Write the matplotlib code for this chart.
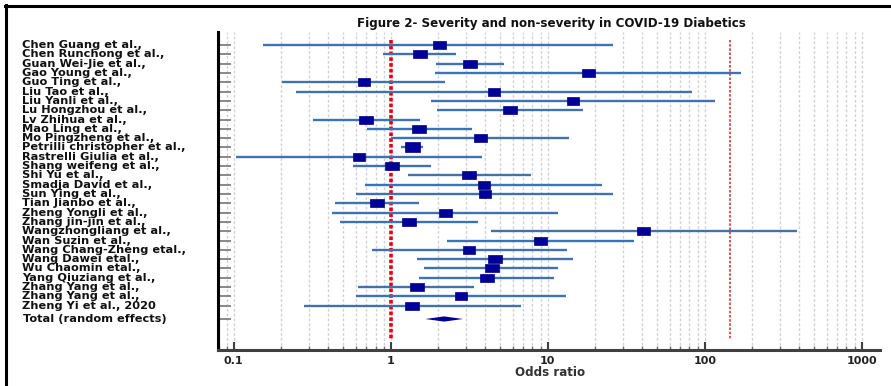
import numpy as np
import matplotlib
matplotlib.use('Agg')
import matplotlib.pyplot as plt
from matplotlib.path import Path
from matplotlib.lines import Line2D
import matplotlib.transforms as mtrans
from matplotlib.ticker import LogLocator, NullFormatter, FixedLocator

# ---------------- data ----------------
studies = [
    "Chen Guang et al.,", "Chen Runchong et al.,", "Guan Wei-Jie et al.,",
    "Gao Young et al.,", "Guo Ting et al.,", "Liu Tao et al.,",
    "Liu Yanli et al.,", "Lu Hongzhou et al.,", "Lv Zhihua et al.,",
    "Mao Ling et al.,", "Mo Pingzheng et al.,", "Petrilli christopher et al.,",
    "Rastrelli Giulia et al.,", "Shang weifeng et al.,", "Shi Yu et al.,",
    "Smadja David et al.,", "Sun Ying et al.,", "Tian Jianbo et al.,",
    "Zheng Yongli et al.,", "Zhang jin-jin et al.,", "Wangzhongliang et al.,",
    "Wan Suzin et al.,", "Wang Chang-Zheng etal.,", "Wang Dawei etal.,",
    "Wu Chaomin etal.,", "Yang Qiuziang et al.,", "Zhang Yang et al.,",
    "Zhang Yang et al.,", "Zheng Yi et al., 2020",
]
odds = [2.02, 1.53, 3.21, 18.1, 0.68, 4.55, 14.4, 5.73, 0.70, 1.52,
        3.69, 1.37, 0.63, 1.02, 3.15, 3.91, 3.99, 0.82, 2.23, 1.31,
        40.6, 8.93, 3.17, 4.59, 4.40, 4.08, 1.46, 2.80, 1.37]
ci_low = [0.154, 0.89, 1.95, 1.92, 0.204, 0.249, 1.80, 1.96, 0.319, 0.703,
          1.01, 1.17, 0.104, 0.578, 1.28, 0.683, 0.604, 0.44, 0.423, 0.478,
          4.37, 2.29, 0.763, 1.48, 1.63, 1.51, 0.619, 0.598, 0.28]
ci_high = [26.2, 2.59, 5.25, 171, 2.23, 83, 117, 16.7, 1.54, 3.30,
           13.7, 1.61, 3.83, 1.81, 7.83, 22.3, 26.1, 1.52, 11.7, 3.6,
           385, 35.3, 13.2, 14.4, 11.7, 11.0, 3.39, 13.1, 6.73]
weight = [13, 14.3, 14.3, 13, 12.7, 11.7, 12.7, 14.7, 14.3, 14.3,
          13, 15, 12.3, 14.3, 14.3, 12.7, 12.7, 14.3, 13, 14.3,
          13, 13, 12.7, 14, 14, 14, 14, 12.7, 13.3]
total_label = "Total (random effects)"
total_or, total_lo, total_hi = 2.19, 1.66, 2.89
xticks = [0.1, 1, 10, 100, 1000]
xtick_labels = ["0.1", "1", "10", "100", "1000"]
ref_line = 1
upper_line = 145
title = "Figure 2- Severity and non-severity in COVID-19 Diabetics"
xlabel = "Odds ratio"

# ---------------- figure ----------------
W, H = 891, 386
fig = plt.figure(figsize=(W / 100, H / 100), dpi=100)
fig.patch.set_facecolor('white')
ax = fig.add_axes([218 / W, 1 - 350 / H, (880 - 218) / W, (350 - 32) / H])
ax.set_xscale('log')
ax.set_xlim(0.0794, 1308)
ax.set_ylim(32.76, -1.40)

font = ['DejaVu Sans']

ys = np.arange(len(studies))
total_y = len(studies) + 0.43

# grid
ax.xaxis.set_major_locator(FixedLocator(xticks))
ax.xaxis.set_minor_locator(LogLocator(base=10, subs=np.arange(2, 10)))
ax.xaxis.set_minor_formatter(NullFormatter())
ax.grid(True, which='both', axis='x', color='#d2d2d2', linestyle=(0, (2, 1.5)),
        linewidth=1.0, zorder=0)
ax.set_axisbelow(True)

# reference lines
ax.plot([ref_line, ref_line], [-0.54, 31.7], color='#e8000b', linewidth=2.6,
        linestyle=(0, (1, 0.6)), zorder=2)
ax.plot([upper_line, upper_line], [-0.54, 31.7], color='#d65a5a', linewidth=1.5,
        linestyle=(0, (1.2, 0.8)), zorder=2)

# CI lines
ax.hlines(ys, ci_low, ci_high, color='#3d72b3', linewidth=1.7, zorder=3)

# boxes
box = Path([[-1.65, -1], [1.65, -1], [1.65, 1], [-1.65, 1], [-1.65, -1]],
           [Path.MOVETO, Path.LINETO, Path.LINETO, Path.LINETO, Path.CLOSEPOLY])
for y, o, w in zip(ys, odds, weight):
    ax.plot([o], [y], marker=box, markersize=w * 0.72, color='#000099',
            markeredgecolor='#00008a', markeredgewidth=0.5, linestyle='none', zorder=4)

# total diamond
dh = 0.28
ax.fill([total_lo, total_or, total_hi, total_or],
        [total_y, total_y - dh, total_y, total_y + dh],
        color='#000099', zorder=4, linewidth=0)

# y ticks
ax.set_yticks(list(ys) + [total_y])
ax.set_yticklabels([])
ax.tick_params(axis='y', direction='in', length=9.5, width=1.3, color='#7f7f7f',
               left=True, right=False)

# x ticks
ax.set_xticklabels(xtick_labels, fontfamily=font, fontweight='bold', fontsize=8,
                   color='#222222')
ax.tick_params(axis='x', which='major', direction='in', length=6, width=1.5,
               color='#404040', pad=4)
ax.tick_params(axis='x', which='minor', direction='in', length=3, width=1,
               color='#707070')

for s in ['top', 'right']:
    ax.spines[s].set_visible(False)
ax.spines['left'].set_linewidth(2.2)
ax.spines['left'].set_color('black')
ax.spines['bottom'].set_linewidth(2.2)
ax.spines['bottom'].set_color('#404040')

# study labels
trans = mtrans.blended_transform_factory(fig.transFigure, ax.transData)
for y, name in zip(ys, studies):
    ax.text(22 / W, y, name, transform=trans, ha='left', va='center',
            fontfamily=font, fontweight='bold', fontsize=8.2, color='#111111')
ax.text(23 / W, total_y, total_label, transform=trans, ha='left', va='center',
        fontfamily=font, fontweight='bold', fontsize=8.2, color='#111111')

# title and x label
fig.text(551 / W, 1 - 23 / H, title, ha='center', va='center', fontfamily=font,
         fontweight='bold', fontsize=8.6, color='#111111')
fig.text(550 / W, 1 - 373 / H, xlabel, ha='center', va='center', fontfamily=font,
         fontweight='bold', fontsize=8.6, color='#333333')

# frame
fig.add_artist(Line2D([5 / W, 1], [1 - 6 / H, 1 - 6 / H], color='black',
                      linewidth=2.2, transform=fig.transFigure))
fig.add_artist(Line2D([6 / W, 6 / W], [1 - 5 / H, 0], color='black',
                      linewidth=2.2, transform=fig.transFigure))

fig.savefig('out.png', dpi=100)
